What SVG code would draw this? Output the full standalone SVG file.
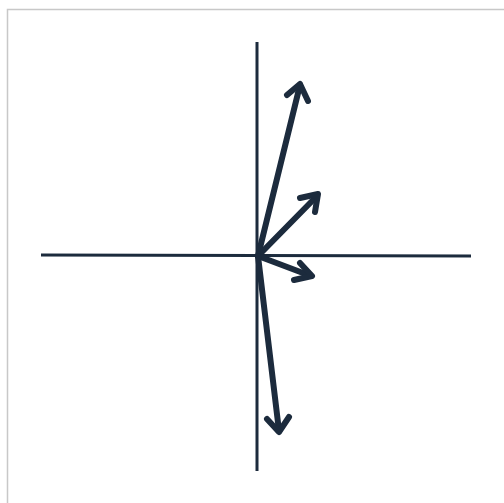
<svg xmlns="http://www.w3.org/2000/svg" width="504" height="503" viewBox="0 0 504 503">
<style>
.axis{stroke:#1c2b3d;stroke-width:3;fill:none}
.vec{stroke:#1c2b3d;stroke-width:6;fill:none;stroke-linecap:round;stroke-linejoin:round}
</style>
<rect x="0" y="0" width="504" height="503" fill="#fff"/>
<rect x="7.5" y="9.5" width="600" height="600" fill="#fff" stroke="#c8c8c8" stroke-width="1.5"/>
<g id="axes">
<line class="axis" x1="257" y1="42" x2="257" y2="471"/>
<line class="axis" x1="41" y1="255" x2="471" y2="256"/>
</g>
<g id="connectors">
<g id="v1"><path class="vec" d="M258 256 L300 85"/><path class="vec" d="M287 95 L300 84 L308 101"/></g>
<g id="v2"><path class="vec" d="M258 256 L317 196"/><path class="vec" d="M300 198 L318 194 L315 212"/></g>
<g id="v3"><path class="vec" d="M258 256 L311 276"/><path class="vec" d="M300 263 L312 276 L294 280"/></g>
<g id="v4"><path class="vec" d="M258 256 L279 431"/><path class="vec" d="M267 419 L279 432 L289 417"/></g>
</g>
</svg>
